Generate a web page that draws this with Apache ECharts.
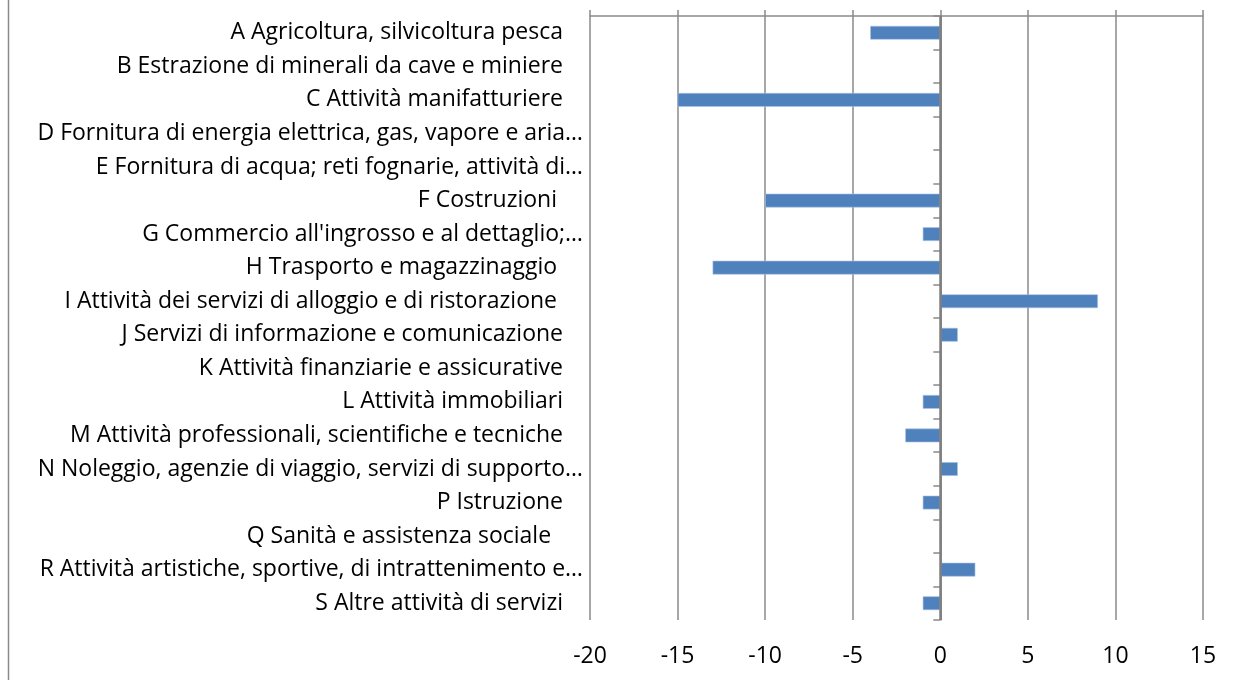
<!DOCTYPE html>
<html>
<head>
<meta charset="utf-8">
<script src="https://cdn.jsdelivr.net/npm/echarts@6/dist/echarts.min.js"></script>
<style>
  html, body { margin: 0; padding: 0; background: #fff; }
  #chart { width: 1236px; height: 680px; }
</style>
</head>
<body>
<div id="chart"></div>
<script>
  // settori (dall'alto verso il basso)
  const categories = [
    'A Agricoltura, silvicoltura pesca',
    'B Estrazione di minerali da cave e miniere',
    'C Attività manifatturiere',
    'D Fornitura di energia elettrica, gas, vapore e aria…',
    'E Fornitura di acqua; reti fognarie, attività di…',
    'F Costruzioni ',
    "G Commercio all'ingrosso e al dettaglio;…",
    'H Trasporto e magazzinaggio ',
    'I Attività dei servizi di alloggio e di ristorazione ',
    'J Servizi di informazione e comunicazione',
    'K Attività finanziarie e assicurative',
    'L Attività immobiliari',
    'M Attività professionali, scientifiche e tecniche',
    'N Noleggio, agenzie di viaggio, servizi di supporto…',
    'P Istruzione',
    'Q Sanità e assistenza sociale  ',
    'R Attività artistiche, sportive, di intrattenimento e…',
    'S Altre attività di servizi'
  ]
  const values = [-4, 0, -15, 0, 0, -10, -1, -13, 9, 1, 0, -1, -2, 1, -1, 0, 2, -1]
  const xMin = -20
  const xMax = 15
  const xStep = 5

  const font = 'Open Sans'
  const fontSize = 23
  const gridColor = '#8a8a8a'

  const chart = echarts.init(document.getElementById('chart'))
  chart.setOption({
    animation: false,
    textStyle: { fontFamily: font },
    graphic: [{
      type: 'line',
      shape: { x1: 8.5, y1: 0, x2: 8.5, y2: 680 },
      style: { stroke: gridColor, lineWidth: 1.5 }
    }],
    grid: { left: 590, right: 33, top: 16, bottom: 60 },
    xAxis: [{
      // asse in alto: linea, tacche e griglia
      type: 'value',
      position: 'top',
      min: xMin,
      max: xMax,
      interval: xStep,
      axisLine: { show: true, onZero: false, lineStyle: { color: gridColor, width: 1.5 } },
      axisTick: { show: true, length: 6, lineStyle: { color: gridColor, width: 1.5 } },
      axisLabel: { show: false },
      splitLine: { show: true, lineStyle: { color: gridColor, width: 1.5 } }
    }, {
      // etichette in basso
      type: 'value',
      position: 'bottom',
      min: xMin,
      max: xMax,
      interval: xStep,
      axisLine: { show: false, onZero: false },
      axisTick: { show: false },
      splitLine: { show: false },
      axisLabel: { margin: 25, color: '#000', fontSize: fontSize, fontFamily: font }
    }],
    yAxis: [{
      // asse verticale sullo zero
      type: 'category',
      data: categories,
      inverse: true,
      axisLine: { show: true, onZero: true, lineStyle: { color: gridColor, width: 1.5 } },
      axisTick: { show: true, length: 7, lineStyle: { color: gridColor, width: 1.5 } },
      axisLabel: { show: false }
    }, {
      // etichette delle categorie
      type: 'category',
      data: categories,
      inverse: true,
      position: 'left',
      axisLine: { show: false, onZero: false },
      axisTick: { show: false },
      axisLabel: {
        margin: 7,
        color: '#000',
        fontSize: fontSize,
        fontFamily: font,
        formatter: v => v.endsWith('…') ? '{e|' + v + '}' : '{n|' + v + '}',
        rich: {
          e: { fontSize: fontSize, fontFamily: font, color: '#000' },
          n: { fontSize: fontSize, fontFamily: font, color: '#000', padding: [0, 20, 0, 0] }
        }
      }
    }],
    series: [{
      type: 'bar',
      xAxisIndex: 0,
      yAxisIndex: 0,
      data: values,
      barWidth: '41%',
      itemStyle: { color: '#4f81bd', borderColor: '#a9c3e4', borderWidth: 0.6 },
      markLine: {
        silent: true,
        symbol: 'none',
        label: { show: false },
        lineStyle: { color: '#7f7f7f', width: 2.5, type: 'solid' },
        data: [{ xAxis: 0 }]
      }
    }]
  })
</script>
</body>
</html>
